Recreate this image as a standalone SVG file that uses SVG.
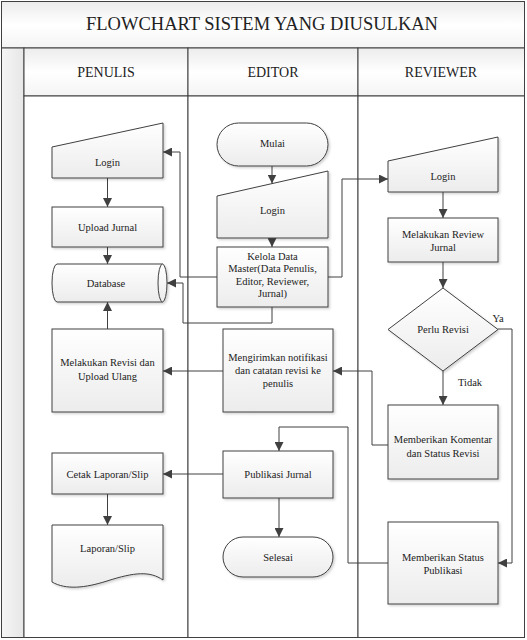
<svg xmlns="http://www.w3.org/2000/svg" width="527" height="640" viewBox="0 0 527 640">
<defs>
<linearGradient id="g" x1="0" y1="0" x2="0" y2="1"><stop offset="0" stop-color="#ffffff"/><stop offset="1" stop-color="#ececec"/></linearGradient>
<linearGradient id="hg" x1="0" y1="0" x2="0" y2="1"><stop offset="0" stop-color="#ececec"/><stop offset="0.5" stop-color="#ffffff"/><stop offset="1" stop-color="#f4f4f4"/></linearGradient>
<linearGradient id="sg" x1="0" y1="0" x2="1" y2="0"><stop offset="0" stop-color="#f6f6f6"/><stop offset="1" stop-color="#e6e6e6"/></linearGradient>
<filter id="sh" x="-10%" y="-10%" width="130%" height="130%"><feDropShadow dx="1.5" dy="1.5" stdDeviation="0.8" flood-color="#000" flood-opacity="0.18"/></filter>
<marker id="a" viewBox="0 0 10 10" refX="10" refY="5" markerWidth="9" markerHeight="9" markerUnits="userSpaceOnUse" orient="auto"><path d="M0,0 L10,5 L0,10 z" fill="#404040"/></marker>
</defs>
<style>
.s{fill:url(#g);stroke:#404040;stroke-width:1;filter:url(#sh)}
.l{fill:none;stroke:#404040;stroke-width:1}
.c{fill:none;stroke:#404040;stroke-width:1;marker-end:url(#a)}
text{font-family:"Liberation Serif","Times New Roman",serif;fill:#222;text-anchor:middle}
.t{font-size:10.5px}
.h{font-size:14px}
</style>
<rect x="0" y="0" width="527" height="640" fill="#ffffff"/>
<g id="frame">
<rect x="1.5" y="1.5" width="523" height="46.5" fill="url(#hg)" stroke="#404040"/>
<rect x="1.5" y="48" width="22.5" height="589.5" fill="url(#sg)" stroke="#404040"/>
<rect x="24" y="48" width="164" height="48" fill="url(#hg)" stroke="#404040"/>
<rect x="188" y="48" width="170" height="48" fill="url(#hg)" stroke="#404040"/>
<rect x="358" y="48" width="166.5" height="48" fill="url(#hg)" stroke="#404040"/>
<rect x="24" y="96" width="164" height="541.5" fill="#ffffff" stroke="#404040"/>
<rect x="188" y="96" width="170" height="541.5" fill="#ffffff" stroke="#404040"/>
<rect x="358" y="96" width="166.5" height="541.5" fill="#ffffff" stroke="#404040"/>
<text x="262" y="30" style="font-size:18.5px">FLOWCHART SISTEM YANG DIUSULKAN</text>
<text class="h" x="106" y="77">PENULIS</text>
<text class="h" x="273" y="77">EDITOR</text>
<text class="h" x="441" y="77">REVIEWER</text>
</g>
<g id="connectors">
<path class="c" d="M272,166 V183.5"/>
<path class="c" d="M272,238 V247"/>
<path class="c" d="M217,277 H180 V152 H163"/>
<path class="c" d="M272,307 V323 H183 V283 H167"/>
<path class="c" d="M328,277 H342 V179 H388"/>
<path class="c" d="M107.5,178 V207"/>
<path class="c" d="M107.5,247 V264"/>
<path class="c" d="M107.5,329 V302"/>
<path class="c" d="M223,371 H163"/>
<path class="c" d="M388,445 H372 V371 H333"/>
<path class="c" d="M443,192 V218"/>
<path class="c" d="M443,262 V288"/>
<path class="c" d="M443,371 V405"/>
<path class="c" d="M498,329 H512 V563 H498"/>
<path class="c" d="M388,563 H348 V427 H279 V451"/>
<path class="c" d="M223,474 H163"/>
<path class="c" d="M279,498 V537"/>
<path class="c" d="M107.5,494 V525"/>
<text class="t" x="498" y="322">Ya</text>
<text class="t" x="470" y="386">Tidak</text>
</g>
<g id="p-login">
<path class="s" d="M52,147 L163,123 L163,178 L52,178 Z"/>
<text class="t" x="107.5" y="165.5">Login</text>
</g>
<g id="p-upload">
<rect class="s" x="52" y="207" width="111" height="40"/>
<text class="t" x="107.5" y="230.5">Upload Jurnal</text>
</g>
<g id="p-database">
<path class="s" d="M57,264 L162.5,264 A4.5,19 0 0 1 162.5,302 L57,302 A5,19 0 0 1 57,264 Z"/>
<path class="l" d="M162.5,264 A4.5,19 0 0 0 162.5,302"/>
<text class="t" x="106" y="286.5">Database</text>
</g>
<g id="p-revisi">
<rect class="s" x="52" y="329" width="111" height="83"/>
<text class="t" x="107.5" y="366">Melakukan Revisi dan</text>
<text class="t" x="107.5" y="380">Upload Ulang</text>
</g>
<g id="p-cetak">
<rect class="s" x="52" y="453" width="111" height="41"/>
<text class="t" x="107.5" y="477.5">Cetak Laporan/Slip</text>
</g>
<g id="p-laporan">
<path class="s" d="M52,525 L163,525 L163,580 C150,571 135,572 107,581 C85,588 66,590 52,582 Z"/>
<text class="t" x="107.5" y="551.5">Laporan/Slip</text>
</g>
<g id="e-mulai">
<rect class="s" x="217" y="123" width="111" height="43" rx="21.5" ry="21.5"/>
<text class="t" x="272.5" y="146.5">Mulai</text>
</g>
<g id="e-login">
<path class="s" d="M217,196 L328,171 L328,238 L217,238 Z"/>
<text class="t" x="272.5" y="213.5">Login</text>
</g>
<g id="e-kelola">
<rect class="s" x="217" y="247" width="111" height="60"/>
<text class="t" x="272.5" y="259.5">Kelola Data</text>
<text class="t" x="272.5" y="272">Master(Data Penulis,</text>
<text class="t" x="272.5" y="284.5">Editor, Reviewer,</text>
<text class="t" x="272.5" y="297">Jurnal)</text>
</g>
<g id="e-notif">
<rect class="s" x="223" y="329" width="110" height="83"/>
<text class="t" x="278" y="360.5">Mengirimkan notifikasi</text>
<text class="t" x="278" y="374">dan catatan revisi ke</text>
<text class="t" x="278" y="387">penulis</text>
</g>
<g id="e-publikasi">
<rect class="s" x="223" y="451" width="110" height="47"/>
<text class="t" x="278" y="477.5">Publikasi Jurnal</text>
</g>
<g id="e-selesai">
<rect class="s" x="223" y="537" width="110" height="40" rx="20" ry="20"/>
<text class="t" x="278" y="560.5">Selesai</text>
</g>
<g id="r-login">
<path class="s" d="M388,161 L498,137 L498,192 L388,192 Z"/>
<text class="t" x="443" y="179.5">Login</text>
</g>
<g id="r-review">
<rect class="s" x="388" y="218" width="110" height="44"/>
<text class="t" x="443" y="237.5">Melakukan Review</text>
<text class="t" x="443" y="250.5">Jurnal</text>
</g>
<g id="r-perlu">
<path class="s" d="M443,288 L498,329.5 L443,371 L388,329.5 Z"/>
<text class="t" x="443" y="333">Perlu Revisi</text>
</g>
<g id="r-komentar">
<rect class="s" x="388" y="405" width="110" height="74"/>
<text class="t" x="443" y="442.5">Memberikan Komentar</text>
<text class="t" x="443" y="456.5">dan Status Revisi</text>
</g>
<g id="r-status">
<rect class="s" x="388" y="522" width="110" height="82"/>
<text class="t" x="443" y="560.5">Memberikan Status</text>
<text class="t" x="443" y="573.5">Publikasi</text>
</g>
</svg>
